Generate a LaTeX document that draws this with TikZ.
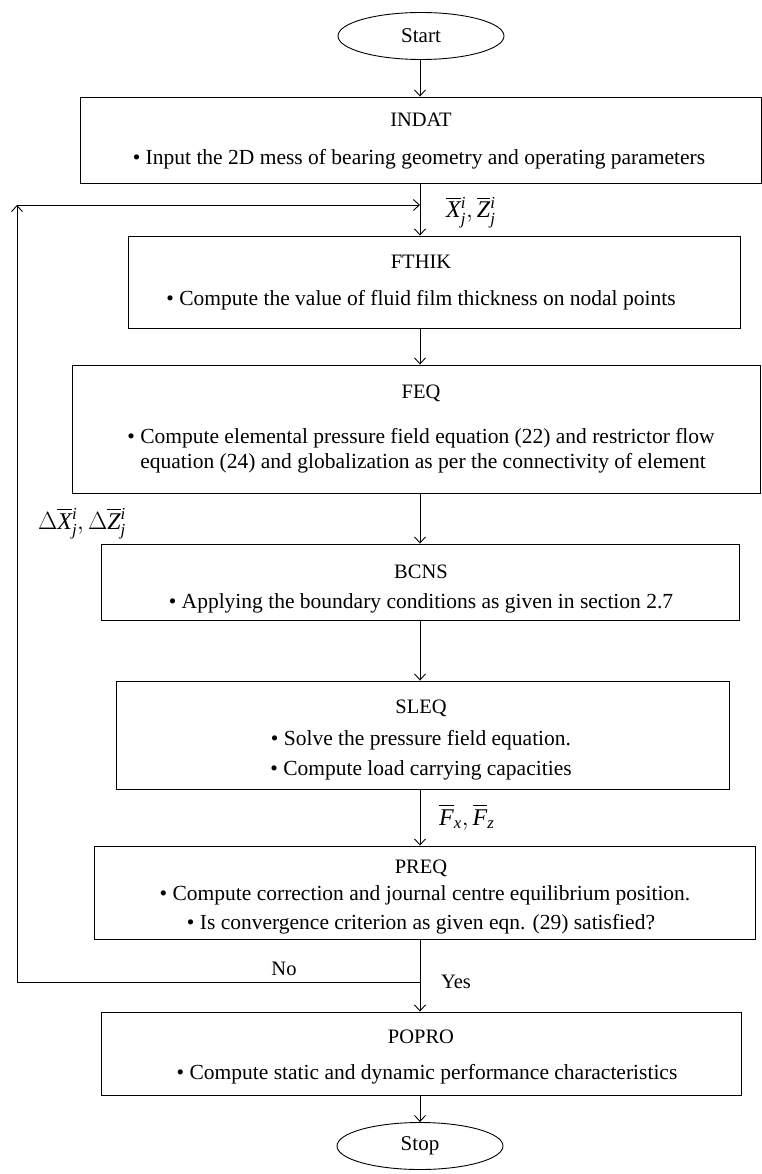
\documentclass[tikz,border=0pt]{standalone}
\usepackage{fontspec}
\setmainfont{Liberation Serif}
\usepackage{amsmath}
\usetikzlibrary{arrows.meta,shapes.geometric}
\newcommand{\iv}[1]{\text{\itshape #1}}
\tikzset{
  box/.style={draw, rectangle, line width=0.9pt, inner sep=0pt},
  term/.style={draw, ellipse, line width=0.9pt, minimum width=166pt, minimum height=47pt, inner sep=0pt, font=\fontsize{21}{25}\selectfont},
  txt/.style={inner sep=0pt, anchor=base, font=\fontsize{21.5}{26}\selectfont},
  ttl/.style={inner sep=0pt, anchor=base, font=\fontsize{20.5}{25}\selectfont},
  lbl/.style={inner sep=0pt, anchor=base west, font=\fontsize{24}{28}\selectfont},
  arr/.style={line width=0.9pt, -{Straight Barb[length=6pt,width=11pt]}},
  ln/.style={line width=0.9pt},
}
\begin{document}
\begin{tikzpicture}[x=1pt,y=-1pt]
\useasboundingbox (0,0) rectangle (762,1174);
% terminals
\node[term] (start) at (421,36) {Start};
\node[term] (stop) at (420,1146) {Stop};
% boxes
\node[box, minimum width=681pt, minimum height=86pt] (indat) at (420.5,140) {};
\node[box, minimum width=612pt, minimum height=92pt] (fthik) at (434,282) {};
\node[box, minimum width=688pt, minimum height=128pt] (feq) at (416.5,429) {};
\node[box, minimum width=638pt, minimum height=76pt] (bcns) at (420,582) {};
\node[box, minimum width=613pt, minimum height=108pt] (sleq) at (422.5,735) {};
\node[box, minimum width=661pt, minimum height=93pt] (preq) at (424.5,892.5) {};
\node[box, minimum width=640pt, minimum height=83pt] (popro) at (421,1053.5) {};
% texts
\node[ttl] (t1) at (421,127) {INDAT};
\node[txt] (b1) at (419,165) {\textbullet\ Input the 2D mess of bearing geometry and operating parameters};
\node[ttl] (t2) at (421,268) {FTHIK};
\node[txt] (b2) at (421,305) {\textbullet\ Compute the value of fluid film thickness on nodal points};
\node[ttl] (t3) at (421,398) {FEQ};
\node[txt] (b3a) at (421,443) {\textbullet\ Compute elemental pressure field equation (22) and restrictor flow};
\node[txt, anchor=base west] (b3b) at ([yshift=-25pt]b3a.base west) {\phantom{\textbullet\ }equation (24) and globalization as per the connectivity of element};
\node[ttl] (t4) at (421,578) {BCNS};
\node[txt] (b4) at (421,608) {\textbullet\ Applying the boundary conditions as given in section 2.7};
\node[ttl] (t5) at (421,713) {SLEQ};
\node[txt] (b5a) at (421,745) {\textbullet\ Solve the pressure field equation.};
\node[txt] (b5b) at (421,775) {\textbullet\ Compute load carrying capacities};
\node[ttl] (t6) at (421,873) {PREQ};
\node[txt] (b6a) at (425,900) {\textbullet\ Compute correction and journal centre equilibrium position.};
\node[txt] (b6b) at (421,929) {\textbullet\ Is convergence criterion as given eqn. (29) satisfied?};
\node[ttl] (t7) at (421,1043) {POPRO};
\node[txt] (b7) at (427,1079) {\textbullet\ Compute static and dynamic performance characteristics};
% labels
\node[lbl] (lxz) at (446,218) {$\overline{\iv{X}}{}^{\iv{i}}_{\iv{j}}, \overline{\iv{Z}}{}^{\iv{i}}_{\iv{j}}$};
\node[lbl] (ldxz) at (38,529) {$\Delta\overline{\iv{X}}{}^{\iv{i}}_{\iv{j}}, \Delta\overline{\iv{Z}}{}^{\iv{i}}_{\iv{j}}$};
\node[lbl] (lf) at (439,825) {$\overline{\iv{F}}_{\iv{x}}, \overline{\iv{F}}_{\iv{z}}$};
\node[ttl] (lno) at (284,975) {No};
\node[ttl] (lyes) at (456,988) {Yes};
% coordinates
\coordinate (j) at (420,982);
\coordinate (cl) at (17,982);
\coordinate (ct) at (17,205);
\coordinate (m) at (420,205);
% connectors
\draw[arr] (start.south -| 420,0) -- (indat.north -| 420,0);
\draw[arr] (indat.south -| 420,0) -- (fthik.north -| 420,0);
\draw[arr] (fthik.south -| 420,0) -- (feq.north -| 420,0);
\draw[arr] (feq.south -| 420,0) -- (bcns.north -| 420,0);
\draw[arr] (bcns.south -| 420,0) -- (sleq.north -| 420,0);
\draw[arr] (sleq.south -| 420,0) -- (preq.north -| 420,0);
\draw[arr] (preq.south -| 420,0) -- (popro.north -| 420,0);
\draw[arr] (popro.south -| 420,0) -- (stop.north -| 420,0);
\draw[arr] (j) -- (cl) -- (ct);
\draw[arr] (ct) -- (m);
\end{tikzpicture}
\end{document}
